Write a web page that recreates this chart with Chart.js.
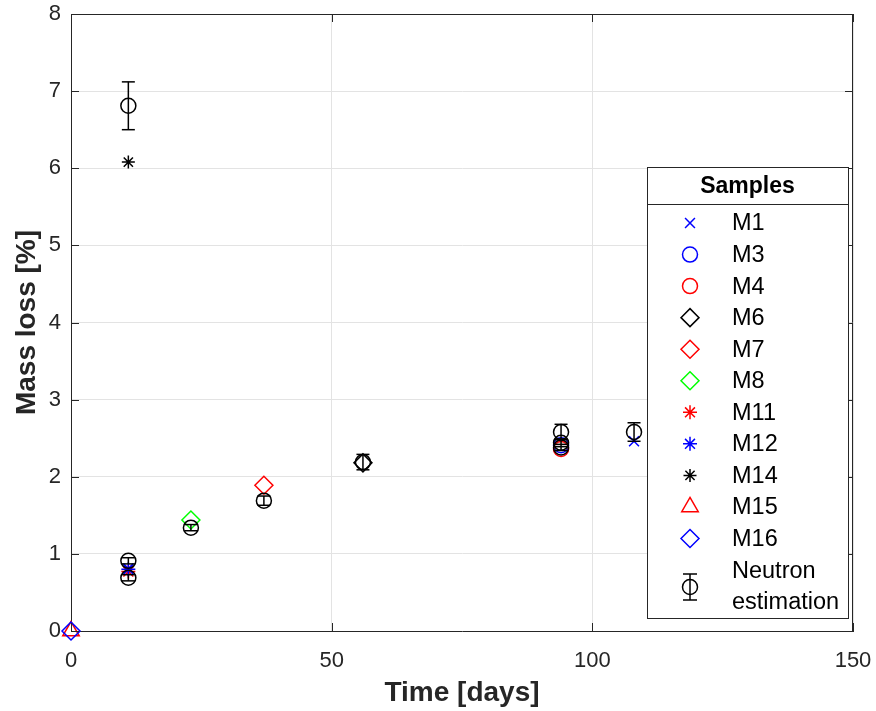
<!DOCTYPE html>
<html>
<head>
<meta charset="utf-8">
<script src="https://cdn.jsdelivr.net/npm/chart.js@4/dist/chart.umd.min.js"></script>
<style>
html,body{margin:0;padding:0;background:#fff;}
#wrap{position:relative;width:876px;height:711px;}
</style>
</head>
<body>
<div id="wrap"><canvas id="c" width="876" height="711"></canvas></div>
<script>
// ---- data ----
const xTicks = [0, 50, 100, 150];
const yTicks = [0, 1, 2, 3, 4, 5, 6, 7, 8];
const m1X = [11, 108],  m1Y = [0.81, 2.46];
const m3X = [94],  m3Y = [2.41];
const m4X = [94],  m4Y = [2.36];
const m6X = [56],  m6Y = [2.18];
const m7X = [37],  m7Y = [1.89];
const m8X = [23],  m8Y = [1.44];
const m11X = [11], m11Y = [0.77];
const m12X = [11], m12Y = [0.80];
const m14X = [11], m14Y = [6.08];
const m15X = [0],  m15Y = [0];
const m16X = [0],  m16Y = [0];
const neutronX   = [11, 11, 11, 23, 37, 56, 94, 94, 94, 108];
const neutronY   = [6.81, 0.91, 0.69, 1.34, 1.69, 2.19, 2.58, 2.44, 2.38, 2.58];
const neutronErr = [0.31, 0.04, 0.04, 0.04, 0.06, 0.10, 0.10, 0.05, 0.04, 0.12];

const FONT = '"Liberation Sans", Arial, Helvetica, sans-serif';
const AX = '#262626';

const pts = (xs, ys) => xs.map((x, i) => ({x, y: ys[i]}));

const samples = [
  {label:'M1',  x:m1X,  y:m1Y,  color:'#0000ff', style:'crossRot', r:7},
  {label:'M3',  x:m3X,  y:m3Y,  color:'#0000ff', style:'circle',   r:7.5},
  {label:'M4',  x:m4X,  y:m4Y,  color:'#ff0000', style:'circle',   r:7.5},
  {label:'M6',  x:m6X,  y:m6Y,  color:'#000000', style:'rectRot',  r:9},
  {label:'M7',  x:m7X,  y:m7Y,  color:'#ff0000', style:'rectRot',  r:9},
  {label:'M8',  x:m8X,  y:m8Y,  color:'#00ff00', style:'rectRot',  r:9},
  {label:'M11', x:m11X, y:m11Y, color:'#ff0000', style:'star',     r:7},
  {label:'M12', x:m12X, y:m12Y, color:'#0000ff', style:'star',     r:7},
  {label:'M14', x:m14X, y:m14Y, color:'#000000', style:'star',     r:6.5},
  {label:'M15', x:m15X, y:m15Y, color:'#ff0000', style:'triangle', r:9.5},
  {label:'M16', x:m16X, y:m16Y, color:'#0000ff', style:'rectRot',  r:9}
];

const datasets = samples.map((s, i) => ({
  label: s.label,
  data: pts(s.x, s.y),
  pointStyle: s.style,
  pointRadius: s.r,
  pointHoverRadius: s.r,
  pointBorderColor: s.color,
  pointBackgroundColor: 'rgba(0,0,0,0)',
  pointBorderWidth: 1.5,
  showLine: false,
  clip: false,
  order: 20 - i
}));

// error bars built from neutron arrays (null separates segments)
const errData = [];
neutronX.forEach((x, i) => {
  errData.push({x, y: neutronY[i] - neutronErr[i]});
  errData.push({x, y: neutronY[i] + neutronErr[i]});
  errData.push({x, y: null});
});
datasets.push({
  label: 'errbars',
  data: errData,
  showLine: true,
  spanGaps: false,
  borderColor: '#000',
  borderWidth: 1.5,
  pointStyle: 'line',
  pointRadius: 6.5,
  pointHoverRadius: 6.5,
  pointBorderColor: '#000',
  pointBorderWidth: 1.5,
  clip: false,
  order: 1
});
datasets.push({
  label: 'Neutron estimation',
  data: pts(neutronX, neutronY),
  pointStyle: 'circle',
  pointRadius: 7.5,
  pointHoverRadius: 7.5,
  pointBorderColor: '#000',
  pointBackgroundColor: 'rgba(0,0,0,0)',
  pointBorderWidth: 1.5,
  showLine: false,
  clip: false,
  order: 0
});

function marker(ctx, style, x, y, r, color) {
  ctx.save();
  ctx.strokeStyle = color; ctx.lineWidth = 1.5;
  ctx.beginPath();
  const q = Math.SQRT1_2 * r;
  switch (style) {
    case 'crossRot':
      ctx.moveTo(x - q, y - q); ctx.lineTo(x + q, y + q);
      ctx.moveTo(x - q, y + q); ctx.lineTo(x + q, y - q); break;
    case 'circle':
      ctx.arc(x, y, r, 0, Math.PI * 2); break;
    case 'rectRot':
      ctx.moveTo(x, y - r); ctx.lineTo(x + r, y); ctx.lineTo(x, y + r); ctx.lineTo(x - r, y); ctx.closePath(); break;
    case 'star':
      ctx.moveTo(x - r, y); ctx.lineTo(x + r, y); ctx.moveTo(x, y - r); ctx.lineTo(x, y + r);
      ctx.moveTo(x - q, y - q); ctx.lineTo(x + q, y + q);
      ctx.moveTo(x - q, y + q); ctx.lineTo(x + q, y - q); break;
    case 'triangle': {
      const s = r * Math.sin(Math.PI / 3), c = r * Math.cos(Math.PI / 3);
      ctx.moveTo(x, y - r); ctx.lineTo(x + s, y + c); ctx.lineTo(x - s, y + c); ctx.closePath(); break;
    }
  }
  ctx.stroke();
  ctx.restore();
}

const framePlugin = {
  id: 'frame',
  afterDraw(chart) {
    const {ctx, chartArea: a, scales} = chart;
    ctx.save();
    ctx.strokeStyle = AX; ctx.lineWidth = 1;
    // box
    ctx.beginPath();
    ctx.moveTo(a.left, a.top + 0.5); ctx.lineTo(a.right, a.top + 0.5);
    ctx.moveTo(a.right - 0.5, a.top); ctx.lineTo(a.right - 0.5, a.bottom);
    ctx.stroke();
    // inward ticks
    const tl = 8;
    ctx.beginPath();
    yTicks.forEach(v => {
      const p = Math.round(scales.y.getPixelForValue(v)) + 0.5;
      ctx.moveTo(a.left, p); ctx.lineTo(a.left + tl, p);
      ctx.moveTo(a.right, p); ctx.lineTo(a.right - tl, p);
    });
    xTicks.forEach(v => {
      const p = Math.round(scales.x.getPixelForValue(v)) + 0.5;
      ctx.moveTo(p, a.bottom); ctx.lineTo(p, a.bottom - tl);
      ctx.moveTo(p, a.top); ctx.lineTo(p, a.top + tl);
    });
    ctx.stroke();

    // legend
    const L = 647, R = 848, T = 167, B = 618, SEP = 204;
    ctx.fillStyle = '#fff';
    ctx.fillRect(L, T, R - L, B - T);
    ctx.strokeStyle = AX; ctx.lineWidth = 1;
    ctx.strokeRect(L + 0.5, T + 0.5, R - L, B - T);
    ctx.beginPath(); ctx.moveTo(L, SEP + 0.5); ctx.lineTo(R, SEP + 0.5); ctx.stroke();
    ctx.fillStyle = '#000';
    ctx.font = 'bold 23px ' + FONT;
    ctx.textAlign = 'center'; ctx.textBaseline = 'middle';
    ctx.fillText('Samples', (L + R) / 2, 187);
    ctx.font = '23.5px ' + FONT;
    ctx.textAlign = 'left';
    const mx = 690, tx = 732, y0 = 223, dy = 31.55;
    samples.forEach((s, i) => {
      const yy = y0 + i * dy;
      marker(ctx, s.style, mx, yy, s.r, s.color);
      ctx.fillStyle = '#000';
      ctx.fillText(s.label, tx, yy + 1);
    });
    const ny = 587;
    marker(ctx, 'circle', mx, ny, 7.5, '#000');
    ctx.strokeStyle = '#000'; ctx.lineWidth = 1.5;
    ctx.beginPath();
    ctx.moveTo(mx, ny - 13); ctx.lineTo(mx, ny + 13);
    ctx.moveTo(mx - 7, ny - 13); ctx.lineTo(mx + 7, ny - 13);
    ctx.moveTo(mx - 7, ny + 13); ctx.lineTo(mx + 7, ny + 13);
    ctx.stroke();
    ctx.fillStyle = '#000';
    ctx.fillText('Neutron', tx, 572);
    ctx.fillText('estimation', tx, 603);
    ctx.restore();
  }
};

new Chart(document.getElementById('c'), {
  type: 'scatter',
  data: {datasets},
  plugins: [framePlugin],
  options: {
    responsive: false,
    animation: false,
    events: [],
    layout: {padding: {top: 14, right: 23, left: 0, bottom: 0}},
    plugins: {legend: {display: false}, tooltip: {enabled: false}},
    scales: {
      x: {
        type: 'linear', min: 0, max: 150,
        afterBuildTicks: s => { s.ticks = xTicks.map(v => ({value: v})); },
        afterFit: s => { s.height = 80; s.paddingLeft = 0; s.paddingRight = 0; },
        grid: {color: '#e3e3e3', drawTicks: false},
        border: {color: AX, width: 1},
        ticks: {color: AX, font: {family: FONT, size: 22}, padding: 17, maxRotation: 0},
        title: {display: true, text: 'Time [days]', color: AX,
                font: {family: FONT, size: 28, weight: 'bold'}, padding: {top: 0, bottom: 1}}
      },
      y: {
        type: 'linear', min: 0, max: 8,
        afterBuildTicks: s => { s.ticks = yTicks.map(v => ({value: v})); },
        afterFit: s => { s.width = 71; s.paddingTop = 0; s.paddingBottom = 0; },
        grid: {color: '#e3e3e3', drawTicks: false},
        border: {color: AX, width: 1},
        ticks: {color: AX, font: {family: FONT, size: 22}, padding: 10},
        title: {display: true, text: 'Mass loss [%]', color: AX,
                font: {family: FONT, size: 28, weight: 'bold'}, padding: {top: 10, bottom: 0}}
      }
    }
  }
});
</script>
</body>
</html>
